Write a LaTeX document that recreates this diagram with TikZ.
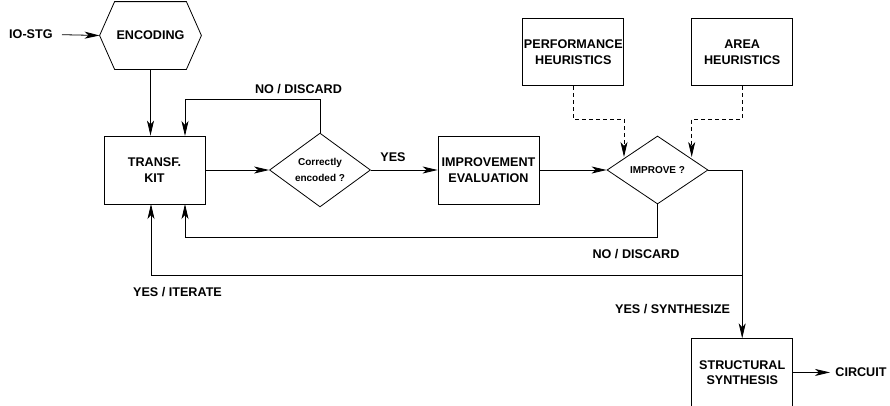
\documentclass[tikz,border=0pt]{standalone}
\usepackage{fontspec}
\setmainfont{Liberation Sans}
\usetikzlibrary{arrows.meta,shapes.geometric}

\begin{document}
\begin{tikzpicture}[x=1pt, y=-1pt, line width=0.8pt,
  every node/.style={font=\fontsize{12.6}{15.5}\selectfont\bfseries, align=center},
  box/.style={draw, minimum width=101pt, minimum height=68pt, inner sep=0pt},
  decision/.style={draw, diamond, minimum width=101pt, minimum height=68pt, inner sep=0pt,
    font=\fontsize{10}{16.5}\selectfont\bfseries},
  lbl/.style={inner sep=0pt, text height=9pt, text depth=0pt},
  flow/.style={-{Stealth[length=15pt, width=7pt, inset=4pt]}},
  dflow/.style={flow, dash pattern=on 4pt off 3pt}]
  \useasboundingbox (0,0) rectangle (890,405);

  % input and encoding
  \node (io) [lbl, anchor=east] at (53,34) {IO-STG};
  \node (enc) [minimum width=101pt, minimum height=67pt, inner sep=0pt] at (150.5,35.5) {ENCODING};
  \draw (enc.west) -- ([xshift=15pt]enc.north west) -- ([xshift=-15pt]enc.north east)
    -- (enc.east) -- ([xshift=-15pt]enc.south east) -- ([xshift=15pt]enc.south west) -- cycle;

  % main chain
  \node (kit) [box] at (154.5,170) {TRANSF.\\KIT};
  \node (ok) [decision] at (320,170) {Correctly\\encoded ?};
  \node (eval) [box] at (488.5,170) {IMPROVEMENT\\EVALUATION};
  \node (imp) [decision, font=\fontsize{10}{12}\selectfont\bfseries] at (657.5,170) {IMPROVE ?};

  % heuristics
  \node (perf) [box, minimum height=67.5pt] at (573.3,52) {PERFORMANCE\\HEURISTICS};
  \node (area) [box, minimum height=67.5pt] at (742.2,52) {AREA\\HEURISTICS};

  % output
  \node (syn) [box] at (742.2,372.7) {STRUCTURAL\\SYNTHESIS};
  \node (out) [lbl, anchor=west] at (835,372.3) {CIRCUIT};

  % helper points
  \coordinate (kin) at (185,136);
  \coordinate (kback) at (185,204);
  \coordinate (kit2) at (151,204);
  \coordinate (pin) at (624,157);
  \coordinate (ain) at (691.7,157);
  \coordinate (turn) at (742.2,170);

  % connectors
  \draw[flow, shorten <=9pt] (io) -- (enc.west);
  \draw[flow] (enc.south) -- (enc.south |- kit.north);
  \draw[flow] (kit) -- (ok);
  \draw[flow] (ok) -- (eval);
  \draw[flow] (eval) -- (imp);
  \draw[flow] (ok.north) -- ++(0,-33) -| (kin);
  \draw[flow] (imp.south) -- ++(0,33.3) -| (kback);
  \draw[dflow] (perf.south) -- ++(0,33) -| (pin);
  \draw[dflow] (area.south) -- ++(0,33) -| (ain);
  \draw (imp.east) -- (turn);
  \draw[flow] (turn) -- (syn.north);
  \draw[flow] (742.2,275.7) -| (kit2);
  \draw[flow, shorten >=5pt] (syn) -- (out);

  % labels
  \node (l1) [lbl] at (298.5,89.3) {NO / DISCARD};
  \node (l2) [lbl] at (393,157.3) {YES};
  \node (l3) [lbl] at (636,254) {NO / DISCARD};
  \node (l4) [lbl] at (177.5,292.3) {YES / ITERATE};
  \node (l5) [lbl] at (672.5,309) {YES / SYNTHESIZE};
\end{tikzpicture}
\end{document}
